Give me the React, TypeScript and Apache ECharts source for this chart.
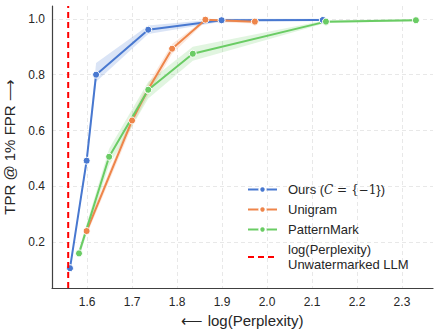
import React, { useEffect, useRef } from "react";
import * as echarts from "echarts";

const oursX = [1.562, 1.599, 1.62, 1.736, 1.899, 2.124];
const oursY = [0.107, 0.492, 0.8, 0.961, 0.995, 0.996];
const oursLo = [0.1, 0.475, 0.775, 0.946, 0.99, 0.992];
const oursHi = [0.114, 0.51, 0.842, 0.976, 1.0, 1.0];

const unigramX = [1.599, 1.7, 1.735, 1.789, 1.863, 1.973];
const unigramY = [0.24, 0.636, 0.745, 0.893, 0.997, 0.99];
const unigramLo = [0.225, 0.615, 0.725, 0.875, 0.99, 0.983];
const unigramHi = [0.255, 0.655, 0.765, 0.91, 1.0, 0.997];

const patternX = [1.582, 1.649, 1.736, 1.835, 2.131, 2.331];
const patternY = [0.16, 0.506, 0.746, 0.875, 0.99, 0.995];
const patternLo = [0.145, 0.475, 0.715, 0.85, 0.985, 0.991];
const patternHi = [0.175, 0.535, 0.775, 0.9, 0.995, 0.999];

const baselineX = 1.558;

const xMin = 1.522;
const xMax = 2.369;
const yMin = 0.036;
const yMax = 1.046;

const BLUE = "#4878d0";
const ORANGE = "#ee854a";
const GREEN = "#6acc64";
const RED = "#ff0000";

const FONT = "Liberation Sans, Arial, sans-serif";
const BASE_NAME = "log(Perplexity)\nUnwatermarked LLM";

function band(name: string, xs: number[], lo: number[], hi: number[], color: string) {
  return {
    type: "custom",
    name: name + "-band",
    silent: true,
    z: 1,
    data: xs.map((x, i) => [x, lo[i], hi[i]]),
    encode: { x: 0, y: 1 },
    renderItem: (params: any, api: any) => {
      if (params.dataIndex !== 0) return null;
      const upper = xs.map((x, i) => api.coord([x, hi[i]]));
      const lower = xs.map((x, i) => api.coord([x, lo[i]])).reverse();
      return {
        type: "polygon",
        shape: { points: upper.concat(lower) },
        style: { fill: color, opacity: 0.2 },
      };
    },
  };
}

function line(name: string, xs: number[], ys: number[], color: string) {
  return {
    type: "line",
    name,
    z: 3,
    data: xs.map((x, i) => [x, ys[i]]),
    symbol: "circle",
    symbolSize: 7,
    lineStyle: { color, width: 2 },
    itemStyle: { color, borderColor: "#ffffff", borderWidth: 1 },
  };
}

const fmt = (v: number, step: number) => {
  const k = v / step;
  return Math.abs(k - Math.round(k)) < 1e-6 ? v.toFixed(1) : "";
};

export default function App() {
  const ref = useRef<HTMLDivElement>(null);
  useEffect(() => {
    if (!ref.current) return;
    const chart = echarts.init(ref.current, undefined, { renderer: "svg" });
    chart.setOption({
      animation: false,
      backgroundColor: "#ffffff",
      grid: { left: 52, right: 6, top: 6, bottom: 48, containLabel: false, outerBoundsMode: "none" },
      xAxis: {
        type: "value",
        min: xMin,
        max: xMax,
        splitNumber: 8,
        name: "\u27f5 log(Perplexity)",
        nameLocation: "middle",
        nameGap: 24,
        nameTextStyle: { fontFamily: FONT, fontSize: 15, color: "#262626" },
        axisLine: { show: true, lineStyle: { color: "#404040", width: 1.2 } },
        axisTick: { show: false },
        axisLabel: {
          fontFamily: FONT,
          fontSize: 12,
          color: "#262626",
          margin: 8,
          showMinLabel: false,
          showMaxLabel: false,
          formatter: (v: number) => fmt(v, 0.1),
        },
        splitLine: {
          show: true,
          showMinLine: false,
          showMaxLine: false,
          lineStyle: { color: "#e2e2e2", type: [4, 3], width: 0.8 },
        },
      },
      yAxis: {
        type: "value",
        min: yMin,
        max: yMax,
        splitNumber: 5,
        name: "TPR @ 1% FPR \u27f6",
        nameLocation: "middle",
        nameGap: 31,
        nameTextStyle: { fontFamily: FONT, fontSize: 15, color: "#262626" },
        axisLine: { show: true, lineStyle: { color: "#404040", width: 1.2 } },
        axisTick: { show: false },
        axisLabel: {
          fontFamily: FONT,
          fontSize: 12,
          color: "#262626",
          margin: 7,
          showMinLabel: false,
          showMaxLabel: false,
          formatter: (v: number) => fmt(v, 0.2),
        },
        splitLine: {
          show: true,
          showMinLine: false,
          showMaxLine: false,
          lineStyle: { color: "#e2e2e2", type: [4, 3], width: 0.8 },
        },
      },
      legend: {
        orient: "vertical",
        left: 247,
        top: 182,
        padding: 0,
        itemWidth: 29,
        itemHeight: 8,
        itemGap: 5,
        data: [
          "Ours",
          "Unigram",
          "PatternMark",
          { name: BASE_NAME, itemStyle: { opacity: 0 } },
        ],
        formatter: (name: string) =>
          name === "Ours" ? "Ours ({c|C}{m| = {−1}})" : name,
        textStyle: {
          fontFamily: FONT,
          fontSize: 13,
          lineHeight: 15,
          color: "#262626",
          padding: [0, 0, 0, 6],
          rich: {
            c: { fontFamily: "DejaVu Serif", fontStyle: "italic", fontSize: 12, color: "#262626" },
            m: { fontFamily: "DejaVu Serif", fontSize: 12, color: "#262626" },
          },
        },
      },
      series: [
        band("Ours", oursX, oursLo, oursHi, BLUE),
        band("Unigram", unigramX, unigramLo, unigramHi, ORANGE),
        band("PatternMark", patternX, patternLo, patternHi, GREEN),
        line("Ours", oursX, oursY, BLUE),
        line("Unigram", unigramX, unigramY, ORANGE),
        line("PatternMark", patternX, patternY, GREEN),
        {
          type: "line",
          name: BASE_NAME,
          z: 4,
          symbol: "none",
          data: [
            [baselineX, yMin],
            [baselineX, yMax],
          ],
          lineStyle: { color: RED, width: 2, type: [6, 4] },
          itemStyle: { color: RED },
        },
      ],
    });
    return () => chart.dispose();
  }, []);
  return (
    <div
      ref={ref}
      style={{ position: "fixed", left: 0, top: 0, width: 439, height: 336, background: "#fff" }}
    />
  );
}
